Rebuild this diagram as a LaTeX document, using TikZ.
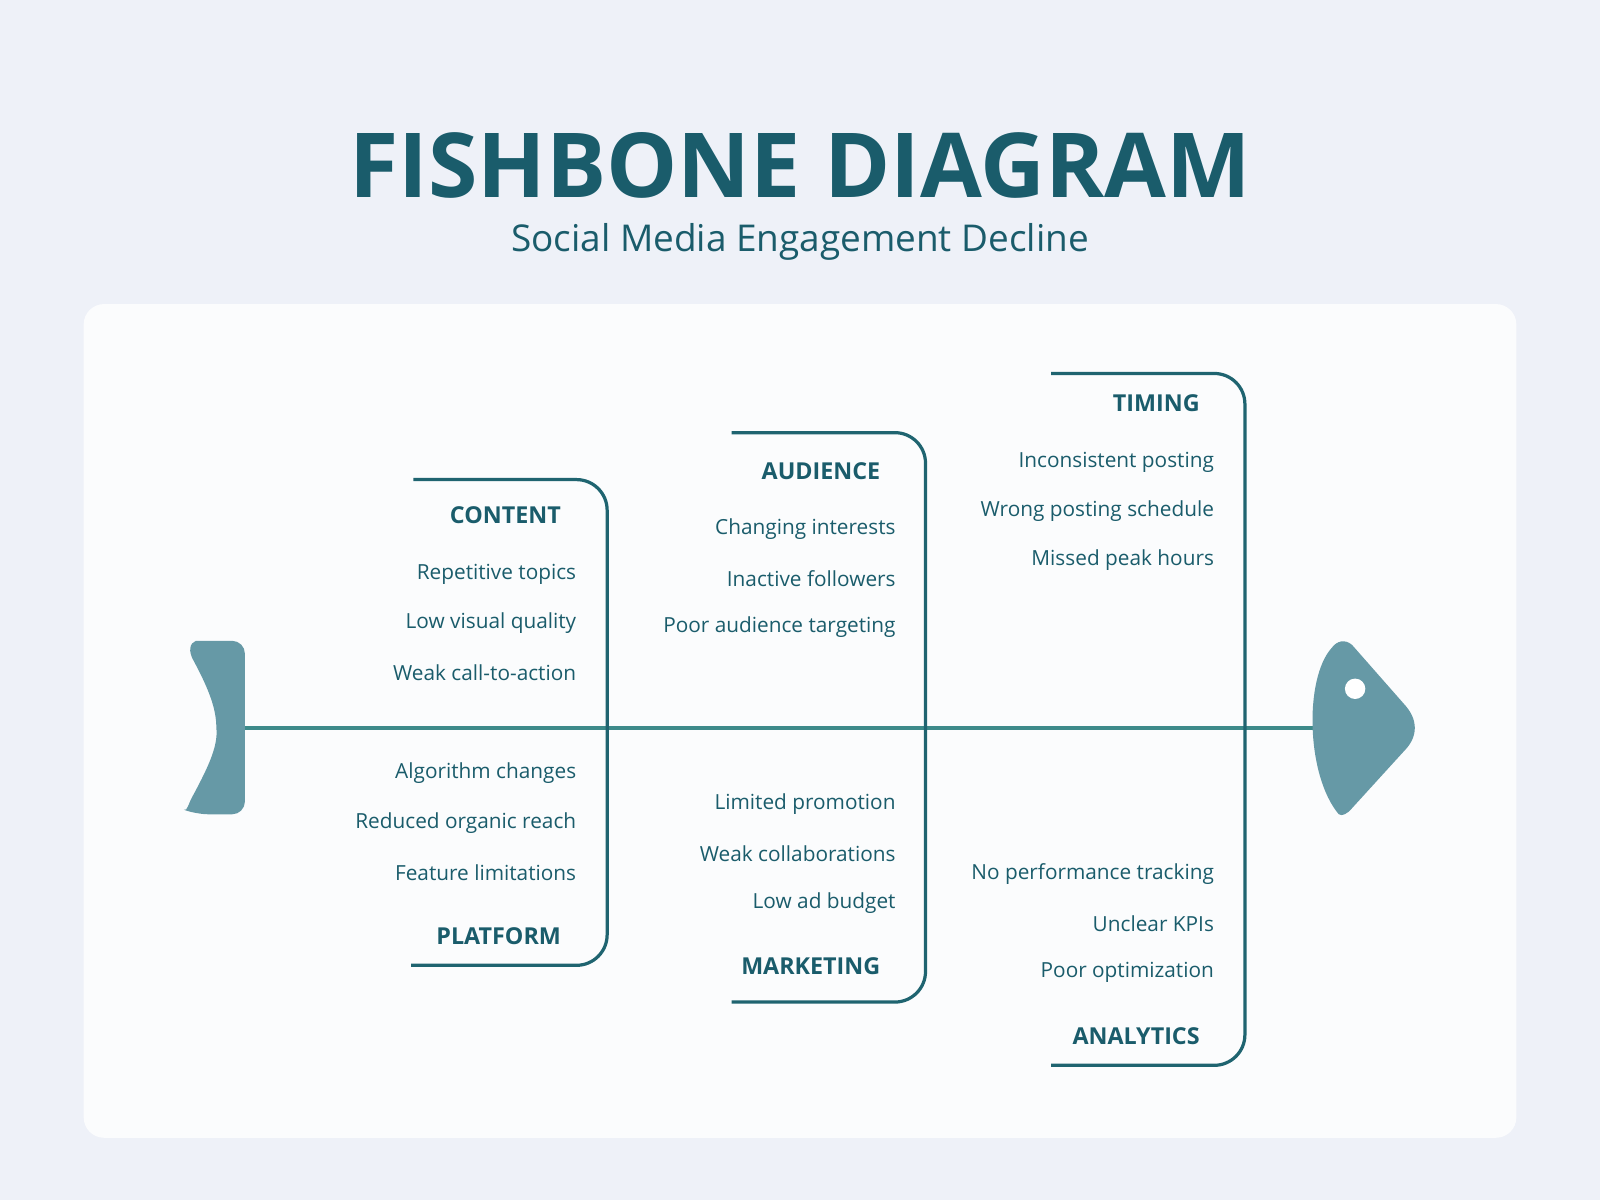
\documentclass[tikz,border=0pt]{standalone}
\usepackage{fontspec}
\setmainfont{Open Sans}
\definecolor{ink}{HTML}{1A5C6B}
\definecolor{bone}{HTML}{1F6470}
\definecolor{spinec}{HTML}{3D8A8A}
\definecolor{fishc}{HTML}{6699A6}
\definecolor{bgc}{HTML}{EEF1F8}
\tikzset{
  cat/.style={anchor=east, inner xsep=0pt, font=\bfseries\fontsize{13}{15}\selectfont, text=ink},
  item/.style={anchor=east, inner xsep=0pt, font=\fontsize{11.6}{14}\selectfont, text=ink},
  bonel/.style={draw=bone, line width=1.8pt, rounded corners=0.6cm}
}
\begin{document}
\begin{tikzpicture}[x=0.02cm, y=-0.02cm]
  \fill[bgc] (0,0) rectangle (1568,1176);
  \fill[white, opacity=0.8, rounded corners=0.4cm] (82,298) rectangle (1486,1115);
  % title
  \node[font=\bfseries\fontsize{50}{56}\selectfont, text=ink] (title) at (784,162) {FISHBONE DIAGRAM};
  \node[font=\fontsize{20.6}{24}\selectfont, text=ink] (sub) at (784,237) {Social Media Engagement Decline};
  % spine
  \coordinate (tailend) at (240,713);
  \coordinate (headend) at (1290,713);
  \draw[spinec, line width=2.2pt] (tailend) -- (headend);
  % tail and head
  \fill[fishc, rounded corners=0.25cm] (192,628) -- (240,628) -- (240,798) -- (192,798)
    [sharp corners] .. controls (184,795) and (184,788) .. (190,778)
    .. controls (205,750) and (214,730) .. (212,713)
    .. controls (212,695) and (205,676) .. (190,648)
    .. controls (184,638) and (186,630) .. (192,628) -- cycle;
  \fill[fishc] (1312,798) .. controls (1280,760) and (1278,665) .. (1305,635)
    .. controls (1310,628) and (1318,626) .. (1325,632)
    -- (1376,690) .. controls (1390,705) and (1390,722) .. (1376,736)
    -- (1325,792) .. controls (1320,798) and (1315,800) .. (1312,798) -- cycle;
  \fill[white] (1328,675) circle (10);
  % bones
  \draw[bonel] (405,470) -- (595,470) -- (595,946) -- (403,946);
  \draw[bonel] (717,424) -- (907,424) -- (907,982) -- (717,982);
  \draw[bonel] (1030,366) -- (1220,366) -- (1220,1044) -- (1030,1044);
  % content
  \node[cat] (content) at (550,505) {CONTENT};
  \node[item] (c1) at (565,563) {Repetitive topics};
  \node[item] (c2) at (565,611) {Low visual quality};
  \node[item] (c3) at (565,659) {Weak call-to-action};
  % audience
  \node[cat] (audience) at (863,462) {AUDIENCE};
  \node[item] (a1) at (878,519) {Changing interests};
  \node[item] (a2) at (878,567) {Inactive followers};
  \node[item] (a3) at (878,615) {Poor audience targeting};
  % timing
  \node[cat] (timing) at (1176,395) {TIMING};
  \node[item] (t1) at (1190,453) {Inconsistent posting};
  \node[item] (t2) at (1190,501) {Wrong posting schedule};
  \node[item] (t3) at (1190,549) {Missed peak hours};
  % platform
  \node[item] (p1) at (565,758) {Algorithm changes};
  \node[item] (p2) at (565,807) {Reduced organic reach};
  \node[item] (p3) at (565,855) {Feature limitations};
  \node[cat] (platform) at (550,917) {PLATFORM};
  % marketing
  \node[item] (m1) at (878,788) {Limited promotion};
  \node[item] (m2) at (878,837) {Weak collaborations};
  \node[item] (m3) at (878,885) {Low ad budget};
  \node[cat] (marketing) at (863,947) {MARKETING};
  % analytics
  \node[item] (n1) at (1190,857) {No performance tracking};
  \node[item] (n2) at (1190,905) {Unclear KPIs};
  \node[item] (n3) at (1190,953) {Poor optimization};
  \node[cat] (analytics) at (1176,1015) {ANALYTICS};
\end{tikzpicture}
\end{document}
